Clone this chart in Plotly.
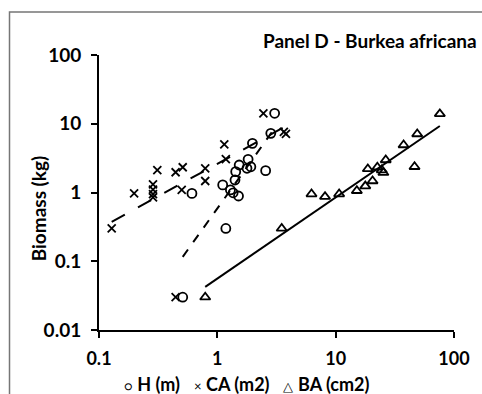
import numpy as np
import plotly.graph_objects as go

# ---- data ----
h_x = [0.51, 0.61, 1.11, 1.18, 1.29, 1.36, 1.51, 1.41, 1.43, 1.53, 1.78, 1.92, 1.82, 1.98, 2.56, 2.83, 3.05]
h_y = [0.03, 0.97, 1.29, 0.30, 1.09, 0.99, 0.89, 1.52, 2.01, 2.51, 2.25, 2.37, 3.04, 5.19, 2.08, 7.26, 14.2]

ca_x = [0.128, 0.198, 0.286, 0.286, 0.286, 0.286, 0.311, 0.444, 0.51, 0.50, 0.79, 0.79, 1.145, 1.18, 2.45, 3.65, 3.80, 0.444]
ca_y = [0.30, 0.97, 1.31, 1.10, 0.95, 0.85, 2.12, 1.97, 2.33, 1.09, 2.25, 1.47, 5.02, 3.05, 14.2, 7.6, 7.1, 0.03]

ba_x = [0.79, 3.5, 6.25, 8.13, 10.7, 15.1, 17.8, 20.5, 18.7, 22.5, 24.5, 25.3, 26.5, 37.5, 46.4, 48.9, 75.9]
ba_y = [0.03, 0.30, 0.95, 0.87, 0.95, 1.06, 1.24, 1.47, 2.2, 2.33, 2.12, 1.94, 2.97, 4.91, 2.37, 7.1, 13.9]

series_names = ["H (m)", "CA (m2)", "BA (cm2)"]
legend_glyphs = ["\u25cb", "\u00d7", "\u25b3"]

x_ticks = [0.1, 1, 10, 100]
x_tick_labels = ["0.1", "1", "10", "100"]
y_ticks = [0.01, 0.1, 1, 10, 100]
y_tick_labels = ["0.01", "0.1", "1", "10", "100"]

FONT = "Lato"
FS = 19
W, H = 482, 394
ML, MR, MT, MB = 99, 26, 55, 64


def power_fit(xs, ys):
    lx, ly = np.log10(xs), np.log10(ys)
    b, a = np.polyfit(lx, ly, 1)
    x_end = [min(xs), max(xs)]
    y_end = [10 ** (a + b * np.log10(v)) for v in x_end]
    return x_end, y_end


fig = go.Figure()

series = [
    (series_names[0], h_x, h_y, "circle-open", 9, "dash"),
    (series_names[1], ca_x, ca_y, "x-thin-open", 8, "longdash"),
    (series_names[2], ba_x, ba_y, "triangle-up-open", 9, "solid"),
]

for name, xs, ys, sym, size, dash in series:
    fx, fy = power_fit(xs, ys)
    fig.add_trace(go.Scatter(x=fx, y=fy, mode="lines", showlegend=False,
                             line=dict(color="black", width=2, dash=dash),
                             hoverinfo="skip"))

for name, xs, ys, sym, size, dash in series:
    fig.add_trace(go.Scatter(x=xs, y=ys, mode="markers", name=name, showlegend=False,
                             marker=dict(symbol=sym, size=size, color="black",
                                         line=dict(color="black", width=1.8))))


def px_x(px):
    return (px - ML) / (W - ML - MR)


def px_y(py):
    return (H - MB - py) / (H - MT - MB)


NB = "\u00a0"
legend_parts = []
for g, n in zip(legend_glyphs, series_names):
    legend_parts.append(f"<span style='font-size:13px'>{g}</span>{NB}<b>{n}</b>")
legend_text = (NB * 3).join(legend_parts)

fig.update_layout(
    width=W, height=H,
    margin=dict(l=ML, r=MR, t=MT, b=MB),
    paper_bgcolor="white", plot_bgcolor="white",
    font=dict(family=FONT, size=FS, color="black"),
    showlegend=False,
    xaxis=dict(type="log", range=[-1, 2], tickvals=x_ticks, ticktext=x_tick_labels,
               showgrid=False, zeroline=False, showline=True, linecolor="black", linewidth=2,
               ticks="outside", ticklen=6, tickwidth=2, tickcolor="black",
               ticklabelstandoff=5,
               tickfont=dict(family=FONT, size=18, color="black", weight="bold")),
    yaxis=dict(type="log", range=[-2, 2], tickvals=y_ticks, ticktext=y_tick_labels,
               showgrid=False, zeroline=False, showline=True, linecolor="black", linewidth=2,
               ticks="outside", ticklen=6, tickwidth=2, tickcolor="black",
               ticklabelstandoff=6,
               tickfont=dict(family=FONT, size=FS, color="black", weight="bold")),
    annotations=[
        dict(text="<b>Panel D - Burkea africana</b>", xref="paper", yref="paper",
             x=px_x(481), y=px_y(41), xanchor="right", yanchor="middle", showarrow=False,
             font=dict(family=FONT, size=FS, color="black")),
        dict(text="<b>Biomass (kg)</b>", xref="paper", yref="paper",
             x=px_x(38), y=px_y(208), xanchor="center", yanchor="middle", textangle=-90,
             showarrow=False, font=dict(family=FONT, size=FS, color="black")),
        dict(text=legend_text, xref="paper", yref="paper",
             x=px_x(248), y=px_y(384), xanchor="center", yanchor="middle",
             showarrow=False, font=dict(family=FONT, size=18, color="black")),
    ],
    shapes=[
        dict(type="path", xref="paper", yref="paper",
             path=f"M {px_x(9)} {px_y(400)} L {px_x(9)} {px_y(12)} L {px_x(490)} {px_y(12)}",
             line=dict(color="#767676", width=1.5)),
    ],
)

fig.write_html("out.html")
